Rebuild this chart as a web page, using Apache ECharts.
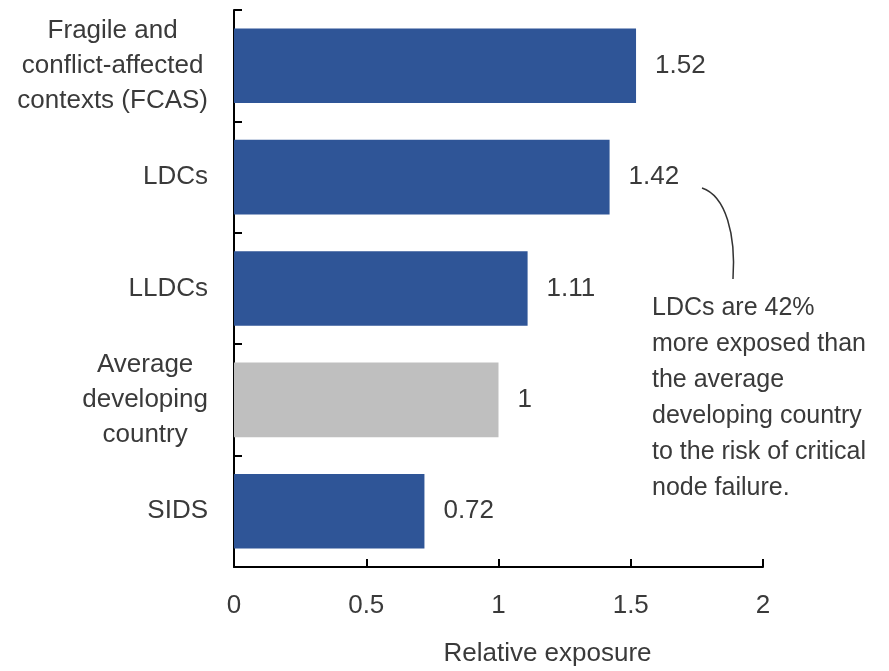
<!DOCTYPE html>
<html>
<head>
<meta charset="utf-8">
<script src="https://cdn.jsdelivr.net/npm/echarts@6/dist/echarts.min.js"></script>
<style>
html,body{margin:0;padding:0;background:#fff;}
#main{width:889px;height:671px;}
</style>
</head>
<body>
<div id="main"></div>
<script>
const categories = ['Fragile and\nconflict-affected\ncontexts (FCAS)', 'LDCs', 'LLDCs', 'Average\ndeveloping\ncountry', 'SIDS'];
const values = [1.52, 1.42, 1.11, 1, 0.72];
const barColors = ['#2F5597', '#2F5597', '#2F5597', '#BFBFBF', '#2F5597'];
const xTicks = [0, 0.5, 1, 1.5, 2];
const axisTitle = 'Relative exposure';
const noteText = 'LDCs are 42%\nmore exposed than\nthe average\ndeveloping country\nto the risk of critical\nnode failure.';

const FONT = "'Liberation Sans', Arial, sans-serif";
const TXT = '#3a3a3a';

const chart = echarts.init(document.getElementById('main'), null, {renderer: 'canvas'});
chart.setOption({
  animation: false,
  backgroundColor: '#fff',
  grid: {left: 234, right: 126, top: 10, bottom: 104, containLabel: false, outerBoundsMode: 'none'},
  xAxis: {
    type: 'value',
    min: xTicks[0], max: xTicks[xTicks.length - 1], interval: 0.5,
    splitLine: {show: false},
    axisLine: {show: true, lineStyle: {color: '#000', width: 2}},
    axisTick: {show: true, inside: true, length: 8, lineStyle: {color: '#000', width: 2}},
    axisLabel: {margin: 26, fontSize: 26, color: TXT, fontFamily: FONT},
    name: axisTitle, nameLocation: 'middle', nameGap: 74,
    nameTextStyle: {fontSize: 26, color: TXT, fontFamily: FONT, padding: [0, 0, 0, 98]}
  },
  yAxis: {
    type: 'category', inverse: true, data: categories,
    axisLine: {show: true, lineStyle: {color: '#000', width: 2}},
    axisTick: {show: true, inside: true, length: 8, alignWithLabel: false, lineStyle: {color: '#000', width: 2}},
    axisLabel: {
      margin: 26, color: TXT, fontSize: 26, fontFamily: FONT, lineHeight: 35, align: 'right',
      formatter: function (v) { return v.split('\n').map(s => '{c|' + s + '}').join('\n'); },
      rich: {c: {align: 'center', fontSize: 26, lineHeight: 35, color: TXT, fontFamily: FONT}}
    }
  },
  series: [{
    type: 'bar',
    data: values.map((v, i) => ({value: v, itemStyle: {color: barColors[i]}})),
    barCategoryGap: '33%',
    label: {show: true, position: 'right', distance: 19, fontSize: 26, color: TXT, fontFamily: FONT}
  }],
  graphic: [
    {
      type: 'bezierCurve',
      shape: {x1: 702, y1: 188, cpx1: 726, cpy1: 196, cpx2: 736, cpy2: 235, x2: 733, y2: 279},
      style: {stroke: '#333', lineWidth: 1.5, fill: null}
    },
    {
      type: 'text', left: 652, top: 290,
      style: {text: noteText, fontSize: 25, lineHeight: 36, fill: TXT, fontFamily: FONT}
    }
  ]
});
</script>
</body>
</html>
